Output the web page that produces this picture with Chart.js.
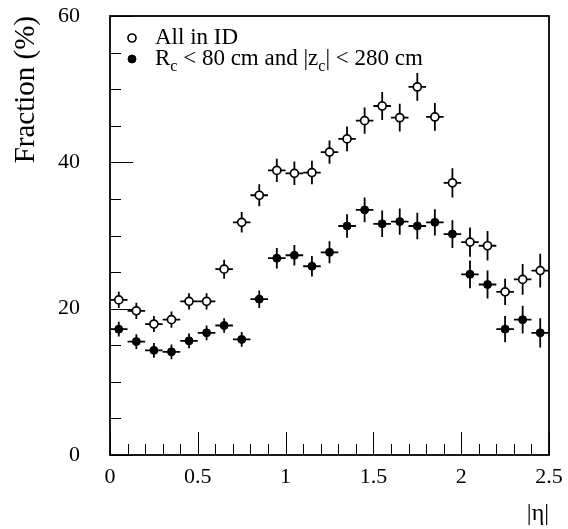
<!DOCTYPE html>
<html lang="en">
<head>
<meta charset="UTF-8">
<title>Fraction vs |eta|</title>
<script src="https://cdn.jsdelivr.net/npm/chart.js"></script>
<style>
  body { margin: 0; background: #fff; }
  canvas { display: block; }
</style>
</head>
<body>
<canvas id="fracChart" width="568" height="529"></canvas>
<script>
// bin centres in |eta| (bin width 0.1)
const etaBins = [0.05, 0.15, 0.25, 0.35, 0.45, 0.55, 0.65, 0.75, 0.85, 0.95,
                 1.05, 1.15, 1.25, 1.35, 1.45, 1.55, 1.65, 1.75, 1.85, 1.95,
                 2.05, 2.15, 2.25, 2.35, 2.45];
const binHalfWidth = 0.05;

// "All in ID"
const allInID    = [21.2, 19.7, 17.9, 18.5, 21.0, 21.0, 25.4, 31.8, 35.5, 38.9,
                    38.5, 38.6, 41.4, 43.2, 45.7, 47.7, 46.1, 50.3, 46.2, 37.2,
                    29.1, 28.6, 22.3, 24.0, 25.2];
const allInIDErr = [1.1, 1.1, 1.1, 1.1, 1.1, 1.1, 1.3, 1.4, 1.5, 1.6,
                    1.6, 1.6, 1.6, 1.7, 1.8, 1.9, 1.9, 1.9, 1.9, 2.0,
                    2.0, 2.0, 1.8, 2.1, 2.3];

// "R_c < 80 cm and |z_c| < 280 cm"
const innerConv    = [17.2, 15.5, 14.3, 14.1, 15.6, 16.7, 17.7, 15.8, 21.3, 26.9,
                      27.3, 25.8, 27.7, 31.3, 33.5, 31.6, 31.9, 31.3, 31.8, 30.2,
                      24.7, 23.3, 17.2, 18.5, 16.7];
const innerConvErr = [1.0, 1.0, 1.0, 1.0, 1.0, 1.0, 1.0, 1.0, 1.2, 1.4,
                      1.4, 1.4, 1.5, 1.6, 1.7, 1.8, 1.8, 1.8, 1.8, 1.9,
                      1.9, 1.9, 1.8, 1.9, 2.0];

const legendLabels = ["All in ID", "R_c < 80 cm and |z_c| < 280 cm"];

const xTicks = [0, 0.5, 1, 1.5, 2, 2.5];
const xTickLabels = ["0", "0.5", "1", "1.5", "2", "2.5"];
const yTicks = [0, 20, 40, 60];
const yTickLabels = ["0", "20", "40", "60"];
const xMinorStep = 0.1;
const yMinorStep = 5;

const serif = "'Liberation Serif', 'Times New Roman', serif";

function toPoints(ys, errs) {
    return etaBins.map((x, i) => ({ x: x, y: ys[i], err: errs[i] }));
}

// error bars: vertical = stat error, horizontal = bin width
const errorBars = {
    id: "errorBars",
    beforeDatasetsDraw(chart) {
        const ctx = chart.ctx;
        const xs = chart.scales.x, ys = chart.scales.y;
        ctx.save();
        ctx.strokeStyle = "#000";
        ctx.lineWidth = 1.8;
        chart.data.datasets.forEach(ds => {
            ds.data.forEach(p => {
                const px = xs.getPixelForValue(p.x);
                const py = ys.getPixelForValue(p.y);
                ctx.beginPath();
                ctx.moveTo(px, ys.getPixelForValue(p.y - p.err));
                ctx.lineTo(px, ys.getPixelForValue(p.y + p.err));
                ctx.moveTo(xs.getPixelForValue(p.x - binHalfWidth), py);
                ctx.lineTo(xs.getPixelForValue(p.x + binHalfWidth), py);
                ctx.stroke();
            });
        });
        ctx.restore();
    }
};

// frame, inward ticks, legend
const frameAndLegend = {
    id: "frameAndLegend",
    afterDraw(chart) {
        const ctx = chart.ctx;
        const a = chart.chartArea;
        const xs = chart.scales.x, ys = chart.scales.y;
        ctx.save();

        // ticks
        ctx.strokeStyle = "#000";
        ctx.lineWidth = 1;
        ctx.beginPath();
        for (let v = 0; v <= xs.max + 1e-9; v += xMinorStep) {
            const px = Math.round(xs.getPixelForValue(v)) + 0.5;
            const major = xTicks.some(t => Math.abs(t - v) < 1e-6);
            ctx.moveTo(px, a.bottom);
            ctx.lineTo(px, a.bottom - (major ? 23 : 11));
        }
        for (let v = 0; v <= ys.max + 1e-9; v += yMinorStep) {
            const py = Math.round(ys.getPixelForValue(v)) + 0.5;
            const major = yTicks.includes(v);
            ctx.moveTo(a.left, py);
            ctx.lineTo(a.left + (major ? 23 : 11), py);
        }
        ctx.stroke();

        // frame
        ctx.lineWidth = 1.8;
        ctx.strokeRect(a.left, a.top, a.right - a.left, a.bottom - a.top);

        // legend
        const rows = [a.top + 22, a.top + 43];
        const markX = a.left + 22;
        const textX = a.left + 45;
        chart.data.datasets.forEach((ds, i) => {
            const y = rows[i];
            ctx.beginPath();
            ctx.arc(markX, y, ds.pointRadius, 0, Math.PI * 2);
            ctx.fillStyle = ds.pointBackgroundColor;
            ctx.fill();
            ctx.lineWidth = ds.pointBorderWidth;
            ctx.strokeStyle = ds.pointBorderColor;
            ctx.stroke();

            // text with _c subscripts
            ctx.fillStyle = "#000";
            ctx.textBaseline = "middle";
            ctx.textAlign = "left";
            let x = textX;
            const parts = legendLabels[i].split(/_(\w)/);
            parts.forEach((part, k) => {
                if (k % 2 === 1) {
                    ctx.font = "16px " + serif;
                    ctx.fillText(part, x, y + 8);
                } else {
                    ctx.font = "23px " + serif;
                    ctx.fillText(part, x, y);
                }
                x += ctx.measureText(part).width;
            });
        });
        ctx.restore();
    }
};

new Chart(document.getElementById("fracChart").getContext("2d"), {
    type: "scatter",
    data: {
        datasets: [
            {
                label: legendLabels[0],
                data: toPoints(allInID, allInIDErr),
                pointRadius: 4,
                pointBorderWidth: 1.7,
                pointBackgroundColor: "#fff",
                pointBorderColor: "#000"
            },
            {
                label: legendLabels[1],
                data: toPoints(innerConv, innerConvErr),
                pointRadius: 4,
                pointBorderWidth: 1,
                pointBackgroundColor: "#000",
                pointBorderColor: "#000"
            }
        ]
    },
    options: {
        responsive: false,
        animation: false,
        events: [],
        layout: { padding: { top: 16, right: 19, left: 0, bottom: 0 } },
        plugins: { legend: { display: false }, tooltip: { enabled: false } },
        scales: {
            x: {
                type: "linear",
                min: 0, max: 2.5,
                afterBuildTicks: s => { s.ticks = xTicks.map(v => ({ value: v })); },
                afterFit: s => { s.height = 74; s.paddingLeft = 0; s.paddingRight = 0; },
                grid: { display: false, drawTicks: false },
                border: { display: false },
                ticks: { color: "#000", padding: 9, maxRotation: 0,
                         callback: (v, i) => xTickLabels[i],
                         font: { family: serif, size: 22 } },
                title: { display: true, text: "|η|", align: "end", color: "#000",
                         padding: { top: 0, bottom: 1 },
                         font: { family: serif, size: 24 } }
            },
            y: {
                type: "linear",
                min: 0, max: 60,
                afterBuildTicks: s => { s.ticks = yTicks.map(v => ({ value: v })); },
                afterFit: s => { s.width = 110; s.paddingTop = 0; s.paddingBottom = 0; },
                grid: { display: false, drawTicks: false },
                border: { display: false },
                ticks: { color: "#000", padding: 30,
                         callback: (v, i) => yTickLabels[i],
                         font: { family: serif, size: 22 } },
                title: { display: true, text: "Fraction (%)", align: "end", color: "#000",
                         padding: { top: 9, bottom: 0 },
                         font: { family: serif, size: 29 } }
            }
        }
    },
    plugins: [errorBars, frameAndLegend]
});
</script>
</body>
</html>
